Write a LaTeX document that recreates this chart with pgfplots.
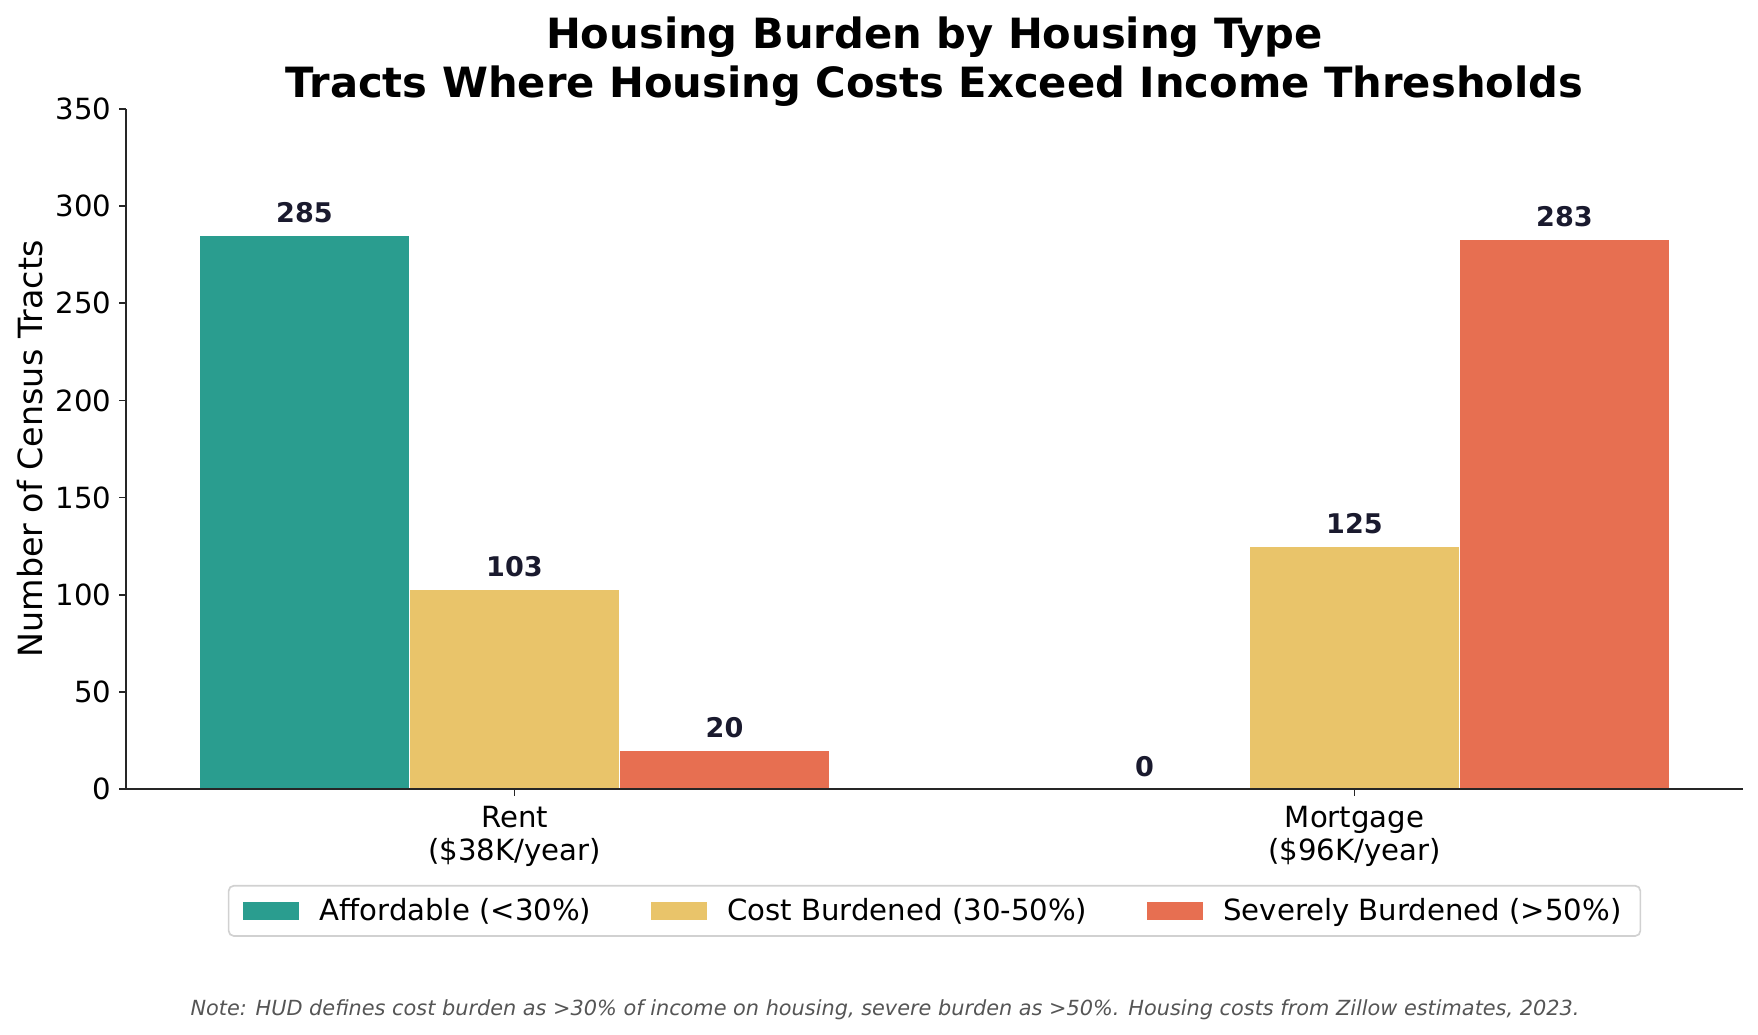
\documentclass[border=0pt]{standalone}
\usepackage{fontspec}
\setmainfont{DejaVu Sans}
\usepackage{pgfplots}
\pgfplotsset{compat=1.18}

\definecolor{affordable}{HTML}{2A9D8F}
\definecolor{costburden}{HTML}{E9C46A}
\definecolor{severe}{HTML}{E76F51}
\definecolor{valuetext}{HTML}{1A1A2E}
\definecolor{spine}{HTML}{262626}
\definecolor{notegray}{HTML}{555555}

\pgfplotsset{
    patch legend/.style={
        legend image code/.code={
            \fill[##1, draw=none, sharp corners] (0pt,-4.25pt) rectangle (26.9pt,4.25pt);
        }
    }
}

\begin{document}
\begin{tikzpicture}
    \begin{axis}[
        name=ax,
        at={(0,0)}, anchor=south west,
        scale only axis,
        width=776.16pt, height=326.4pt,
        ybar, bar width=0.25,
        xmin=-0.4625, xmax=1.4625,
        ymin=0, ymax=350,
        xtick={0,1},
        xticklabels={{Rent\\(\$38K/year)},{Mortgage\\(\$96K/year)}},
        ytick={0,50,...,350},
        axis x line*=bottom, axis y line*=left,
        axis line style={spine, line width=0.8pt},
        tick style={spine, line width=0.8pt},
        tick align=outside,
        major tick length=3.2pt,
        axis on top,
        clip=false,
        /pgf/number format/assume math mode=true,
        ticklabel style={font=\fontsize{14}{15.8}\selectfont},
        xticklabel style={align=center, anchor=north, inner sep=0pt, yshift=-5.1pt},
        yticklabel style={anchor=east, inner sep=0pt, xshift=-3.6pt},
        ylabel={Number of Census Tracts},
        ylabel style={font=\fontsize{16}{19.2}\selectfont, at={(axis description cs:-0.0519,0.5)},
            anchor=base, inner sep=0pt},
        title={Housing Burden by Housing Type\\Tracts Where Housing Costs Exceed Income Thresholds},
        title style={font=\fontsize{20}{23.4}\selectfont\bfseries, align=center,
            at={(axis description cs:0.5,1)}, anchor=south, inner sep=0pt, yshift=-5pt},
        nodes near coords,
        every node near coord/.append style={
            font=\fontsize{13}{15.6}\selectfont\bfseries,
            text=valuetext, anchor=base, inner sep=0pt, yshift=5.9pt
        },
        legend columns=3,
        legend style={
            at={(0.5,-0.141)}, anchor=north,
            draw=black!18, line width=0.8pt, rounded corners=2.5pt,
            font=\fontsize{14}{16.8}\selectfont,
            inner xsep=7pt, inner ysep=4pt,
            /tikz/every odd column/.append style={column sep=7.8pt},
            /tikz/every even column/.append style={column sep=26.6pt},
        },
    ]

    \addplot[fill=affordable, draw=white, line width=0.7pt, bar shift=-0.25, patch legend]
        coordinates {(0,285) (1,0)};
    \addplot[fill=costburden, draw=white, line width=0.7pt, bar shift=0, patch legend]
        coordinates {(0,103) (1,125)};
    \addplot[fill=severe, draw=white, line width=0.7pt, bar shift=0.25, patch legend]
        coordinates {(0,20) (1,283)};

    \legend{Affordable (<30\%), Cost Burdened (30-50\%), Severely Burdened (>50\%)}
    \end{axis}

    \node[anchor=base, inner sep=0pt, font=\fontsize{10}{12}\selectfont\itshape, text=notegray]
        at (364.3pt,-108.8pt)
        {Note: HUD defines cost burden as >30\% of income on housing, severe burden as >50\%. Housing costs from Zillow estimates, 2023.};

    \pgfresetboundingbox
    \path (-60.48pt,-117.6pt) rectangle (783.36pt,378.72pt);
\end{tikzpicture}
\end{document}
